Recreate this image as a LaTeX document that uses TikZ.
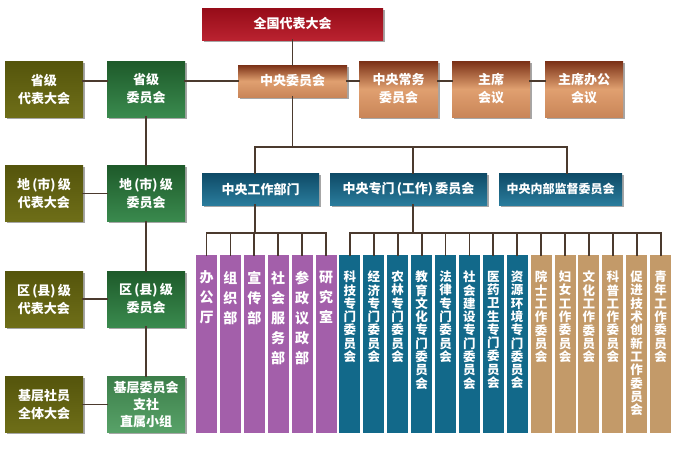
\documentclass[tikz,border=0pt]{standalone}
\usepackage{fontspec}
\setmainfont{Noto Sans CJK SC}
\usetikzlibrary{shadows}

\definecolor{linebrown}{HTML}{4B3A2E}
\definecolor{redA}{HTML}{960C18}
\definecolor{redB}{HTML}{BA2230}
\definecolor{copA}{HTML}{7A3016}
\definecolor{copB}{HTML}{E0A070}
\definecolor{copC}{HTML}{C98558}
\definecolor{oliveA}{HTML}{55550C}
\definecolor{oliveB}{HTML}{6E6E18}
\definecolor{greenA}{HTML}{1E5A2A}
\definecolor{greenB}{HTML}{3A8A4E}
\definecolor{greenC}{HTML}{3C7E4A}
\definecolor{greenD}{HTML}{58A268}
\definecolor{blueA}{HTML}{0E4A66}
\definecolor{blueB}{HTML}{2A7C9C}
\definecolor{purplecol}{HTML}{A35FAA}
\definecolor{bluecol}{HTML}{12698A}
\definecolor{tancol}{HTML}{C39A69}

\tikzset{
  box/.style={rectangle, inner sep=0pt, text=white, align=center,
    font=\bfseries\fontsize{13}{18}\selectfont,
    drop shadow={shadow xshift=1.5pt, shadow yshift=-1.5pt, opacity=0.35, fill=black}},
  redbox/.style={box, top color=redA, bottom color=redB, minimum width=181pt, minimum height=32pt},
  copperbox/.style={box, top color=copA, bottom color=copC, middle color=copB, minimum width=78pt, minimum height=56pt},
  olivebox/.style={box, top color=oliveA, bottom color=oliveB, minimum width=78pt, minimum height=56pt},
  greenbox/.style={box, top color=greenA, bottom color=greenB, minimum width=78pt, minimum height=56pt},
  bluebox/.style={box, top color=blueA, bottom color=blueB, minimum height=32pt},
  colbox/.style={rectangle, inner sep=0pt, minimum width=21pt, minimum height=178pt},
  coltext/.style={anchor=north, inner sep=0pt, text=white, align=center,
    font=\bfseries\fontsize{12.5}{13.3}\selectfont},
  bigtext/.style={coltext, font=\bfseries\fontsize{14}{20}\selectfont},
  link/.style={draw=linebrown, line width=1.8pt, line cap=rect}
}

\begin{document}
\begin{tikzpicture}[x=1pt, y=-1pt]
\useasboundingbox (0,0) rectangle (680,456);

% central bodies
\node[redbox] (quanguo) at (292.5,24) {全国代表大会};
\node[copperbox, minimum width=109pt, minimum height=32pt] (zhongwei) at (292.5,81) {中央委员会};
\node[copperbox, minimum width=79pt] (changwu) at (398.5,89) {中央常务\\委员会};
\node[copperbox] (zhuxi) at (491,89) {主席\\会议};
\node[copperbox] (bangong) at (584,89) {主席办公\\会议};

% local levels
\node[olivebox] (shengdai) at (44,89) {省级\\代表大会};
\node[greenbox] (shengwei) at (146,89) {省级\\委员会};
\node[olivebox] (didai) at (44,193.5) {地\,(市)\,级\\代表大会};
\node[greenbox] (diwei) at (146,193.5) {地\,(市)\,级\\委员会};
\node[olivebox] (qudai) at (44,299) {区\,(县)\,级\\代表大会};
\node[greenbox] (quwei) at (146,299) {区\,(县)\,级\\委员会};
\node[olivebox] (jidai) at (44,404.5) {基层社员\\全体大会};
\node[greenbox, top color=greenC, bottom color=greenD, font=\bfseries\fontsize{13}{17}\selectfont] (jiwei) at (146,404.5) {基层委员会\\支社\\直属小组};

% central departments
\node[bluebox, minimum width=117pt] (gongzuo) at (260.5,189) {中央工作部门};
\node[bluebox, minimum width=157pt] (zhuanmen) at (408.5,189) {中央专门\,(工作)\,委员会};
\node[bluebox, minimum width=123pt, font=\bfseries\fontsize{12}{14}\selectfont] (jiandu) at (560.5,189) {中央内部监督委员会};

% columns
\foreach \t [count=\i from 0] in {{办\\公\\厅},{组\\织\\部},{宣\\传\\部},{社\\会\\服\\务\\部},{参\\政\\议\\政\\部},{研\\究\\室}} {
  \node[colbox, fill=purplecol] (c\i) at ({206.5+23.9*\i},344) {};
  \node[bigtext] (t\i) at ([yshift=-16pt]c\i.north) {\t};
}
\foreach \t [count=\i from 6] in {{科\\技\\专\\门\\委\\员\\会},{经\\济\\专\\门\\委\\员\\会},{农\\林\\专\\门\\委\\员\\会},{教\\育\\文\\化\\专\\门\\委\\员\\会},{法\\律\\专\\门\\委\\员\\会},{社\\会\\建\\设\\专\\门\\委\\员\\会},{医\\药\\卫\\生\\专\\门\\委\\员\\会},{资\\源\\环\\境\\专\\门\\委\\员\\会}} {
  \node[colbox, fill=bluecol] (c\i) at ({206.5+23.9*\i},344) {};
  \node[coltext] (t\i) at ([yshift=-16pt]c\i.north) {\t};
}
\foreach \t [count=\i from 14] in {{院\\士\\工\\作\\委\\员\\会},{妇\\女\\工\\作\\委\\员\\会},{文\\化\\工\\作\\委\\员\\会},{科\\普\\工\\作\\委\\员\\会},{促\\进\\技\\术\\创\\新\\工\\作\\委\\员\\会},{青\\年\\工\\作\\委\\员\\会}} {
  \node[colbox, fill=tancol] (c\i) at ({206.5+23.9*\i},344) {};
  \node[coltext] (t\i) at ([yshift=-16pt]c\i.north) {\t};
}

% connectors
\coordinate (busL) at (255,147);
\coordinate (busM) at (413,147);
\coordinate (busR) at (567,147);
\coordinate (subA) at (255,233);
\coordinate (subB) at (413,233);

\draw[link] (quanguo) -- (zhongwei);
\draw[link] (zhongwei.east) -- (zhongwei.east -| changwu.west);
\draw[link] (changwu.east |- zhongwei) -- (zhuxi.west |- zhongwei);
\draw[link] (zhuxi.east |- zhongwei) -- (bangong.west |- zhongwei);
\draw[link] (shengwei.east |- zhongwei) -- (zhongwei.west);
\draw[link] (shengdai.east |- zhongwei) -- (shengwei.west |- zhongwei);
\draw[link] (didai) -- (diwei);
\draw[link] (qudai) -- (quwei);
\draw[link] (jidai) -- (jiwei);
\draw[link] (shengwei) -- (diwei) -- (quwei) -- (jiwei);

\draw[link] (zhongwei.south) -- (zhongwei.south |- busL);
\draw[link] (gongzuo.north -| busL) -- (busL) -- (busR) -- (jiandu.north -| busR);
\draw[link] (busM) -- (zhuanmen.north -| busM);

\draw[link] (gongzuo.south -| subA) -- (subA);
\draw[link] (c0.north |- subA) -- (c5.north |- subA);
\foreach \i in {0,...,5}
  \draw[link] (c\i.north |- subA) -- (c\i.north);
\draw[link] (zhuanmen.south -| subB) -- (subB);
\draw[link] (c6.north |- subB) -- (c19.north |- subB);
\foreach \i in {6,...,19}
  \draw[link] (c\i.north |- subB) -- (c\i.north);
\end{tikzpicture}
\end{document}
